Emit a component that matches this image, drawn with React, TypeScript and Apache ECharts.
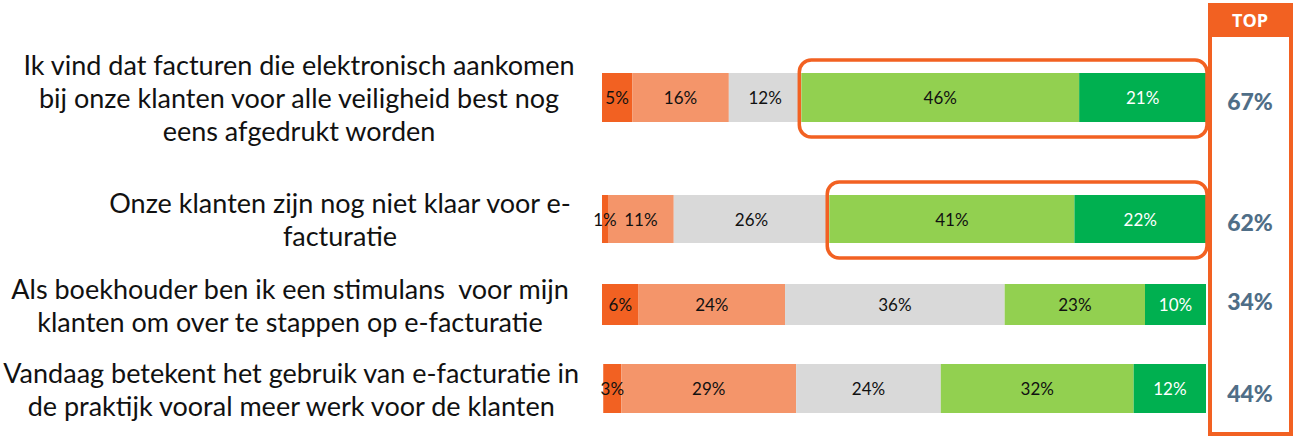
import React, { useEffect, useRef } from 'react';
import * as echarts from 'echarts';

// ---- data ----
const questions = [
  'Ik vind dat facturen die elektronisch aankomen\nbij onze klanten voor alle veiligheid best nog\neens afgedrukt worden',
  'Onze klanten zijn nog niet klaar voor e-\nfacturatie',
  'Als boekhouder ben ik een stimulans  voor mijn\nklanten om over te stappen op e-facturatie',
  'Vandaag betekent het gebruik van e-facturatie in\nde praktijk vooral meer werk voor de klanten',
];
const segmentNames = ['Helemaal oneens', 'Oneens', 'Neutraal', 'Eens', 'Helemaal eens'];
const stronglyDisagree = [5, 1, 6, 3];
const disagree = [16, 11, 24, 29];
const neutral = [12, 26, 36, 24];
const agree = [46, 41, 23, 32];
const stronglyAgree = [21, 22, 10, 12];
const topValues = [67, 62, 34, 44];
const highlightedRows = [0, 1];

// ---- styling / layout ----
const segmentColors = ['#F26122', '#F4956A', '#D9D9D9', '#92D050', '#00B050'];
const labelColors = ['#111', '#111', '#111', '#111', '#ffffff'];
const ORANGE = '#F26122';
const GRID_LEFT = 602;
const GRID_WIDTH = 604;
const rowLayout = [
  { top: 73, height: 49, labelCenter: 299, topY: 101 },
  { top: 195, height: 48, labelCenter: 340, topY: 222 },
  { top: 284, height: 41, labelCenter: 290, topY: 301 },
  { top: 364, height: 49, labelCenter: 290, topY: 393 },
];

export default function App() {
  const ref = useRef<HTMLDivElement>(null);

  useEffect(() => {
    if (!ref.current) return;
    const chart = echarts.init(ref.current, undefined, { renderer: 'svg' });
    const segments = [stronglyDisagree, disagree, neutral, agree, stronglyAgree];
    const rowTotals = questions.map((_, r) => segments.reduce((s, seg) => s + seg[r], 0));

    const grids = rowLayout.map((l) => ({
      left: GRID_LEFT,
      width: GRID_WIDTH,
      top: l.top,
      height: l.height,
      containLabel: false,
    }));
    const xAxes = rowLayout.map((_, r) => ({
      type: 'value',
      gridIndex: r,
      min: 0,
      max: 100,
      show: false,
    }));
    const yAxes = rowLayout.map((l, r) => ({
      type: 'category',
      gridIndex: r,
      data: [questions[r]],
      axisLine: { show: false },
      axisTick: { show: false },
      axisLabel: {
        align: 'center',
        margin: GRID_LEFT - l.labelCenter,
        fontFamily: 'Lato',
        fontSize: 27,
        lineHeight: 33,
        color: '#111',
      },
    }));
    const series: any[] = [];
    rowLayout.forEach((l, r) => {
      segments.forEach((seg, s) => {
        series.push({
          type: 'bar',
          name: segmentNames[s],
          xAxisIndex: r,
          yAxisIndex: r,
          stack: 'row' + r,
          barWidth: l.height,
          data: [(seg[r] / rowTotals[r]) * 100],
          itemStyle: { color: segmentColors[s] },
          label: {
            show: true,
            position: 'inside',
            formatter: () => seg[r] + '%',
            color: labelColors[s],
            fontFamily: 'Lato',
            fontSize: 17,
          },
          silent: true,
        });
      });
    });

    chart.setOption({
      animation: false,
      grid: grids,
      xAxis: xAxes,
      yAxis: yAxes,
      series,
    });

    const graphics: any[] = [];
    highlightedRows.forEach((r) => {
      const l = rowLayout[r];
      const startVal = (stronglyDisagree[r] + disagree[r] + neutral[r]) / rowTotals[r] * 100;
      const x0 = chart.convertToPixel({ xAxisIndex: r }, startVal) as number;
      const x1 = chart.convertToPixel({ xAxisIndex: r }, 100) as number;
      graphics.push({
        type: 'rect',
        shape: { x: x0 - 2, y: l.top - 13, width: x1 - x0 + 3, height: l.height + 28, r: 12 },
        style: { fill: 'none', stroke: ORANGE, lineWidth: 3.5 },
        z: 10,
      });
    });
    graphics.push({
      type: 'rect',
      shape: { x: 1208, y: 3, width: 85, height: 34 },
      style: { fill: ORANGE },
    });
    graphics.push({
      type: 'rect',
      shape: { x: 1210, y: 5, width: 81, height: 429 },
      style: { fill: 'none', stroke: ORANGE, lineWidth: 4 },
    });
    graphics.push({
      type: 'text',
      x: 1250,
      y: 20,
      style: {
        text: 'TOP',
        fill: '#fff',
        font: 'bold 18px "Open Sans"',
        textAlign: 'center',
        textVerticalAlign: 'middle',
      },
    });
    topValues.forEach((v, r) => {
      graphics.push({
        type: 'text',
        x: 1250,
        y: rowLayout[r].topY,
        style: {
          text: v + '%',
          fill: '#4F6E87',
          font: '900 23px Lato',
          textAlign: 'center',
          textVerticalAlign: 'middle',
        },
      });
    });
    chart.setOption({ graphic: graphics });

    return () => chart.dispose();
  }, []);

  return (
    <div
      ref={ref}
      style={{ position: 'fixed', left: 0, top: 0, width: 1299, height: 439, background: '#fff' }}
    />
  );
}
